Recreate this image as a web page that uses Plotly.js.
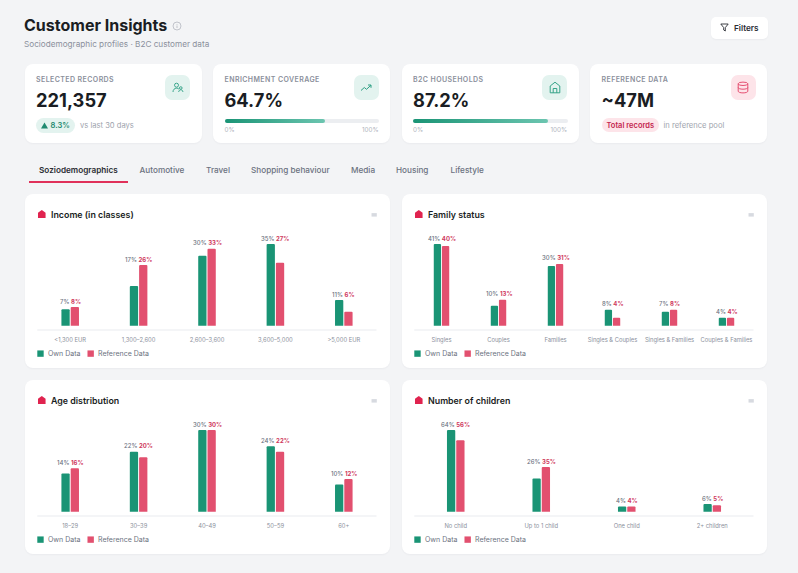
<!DOCTYPE html>
<html><head><meta charset="utf-8">
<script src="https://cdn.plot.ly/plotly-3.0.1.min.js"></script>
<style>
*{box-sizing:border-box;margin:0;padding:0}
html,body{width:798px;height:573px;overflow:hidden;background:#f3f4f6;font-family:Inter,"Noto Sans",sans-serif}
.a{position:absolute;white-space:nowrap}
.card{position:absolute;background:#fff;border-radius:8px;box-shadow:0 1px 2px rgba(20,30,50,.04)}
.kl{font-size:7px;font-weight:600;letter-spacing:.42px;color:#8b909c;top:75px;line-height:9px}
.kv{font-size:18.3px;font-weight:700;color:#1a1d23;top:88px;line-height:24px}
.ib{width:25px;height:25px;border-radius:7px;top:75px;display:flex;align-items:center;justify-content:center}
.track{height:4px;top:119px;width:154.5px;background:#eceef1;border-radius:2px}
.fill{height:4px;top:119px;border-radius:2px;background:linear-gradient(90deg,#1a9475,#6cc5b0)}
.pl{font-size:6.3px;color:#b0b4bd;top:126px;line-height:8px}
.tab{top:164px;font-size:8.2px;font-weight:500;color:#6b7280;line-height:12px}
.chart{position:absolute;width:365px;height:174px}
</style></head><body>
<div class="a" style="left:24px;top:13px;font-size:16px;font-weight:700;color:#1a1d23;line-height:24px">Customer Insights</div>
<svg class="a" style="left:172px;top:21px" width="10" height="10" viewBox="0 0 10 10" fill="none" stroke="#b4b8c0" stroke-width=".8"><circle cx="5" cy="5" r="4"/><path d="M5 4.5V7M5 3v.7"/></svg>
<div class="a" style="left:24px;top:39px;font-size:8.2px;color:#8b909c;line-height:11px">Sociodemographic profiles · B2C customer data</div>
<div class="card" style="left:711px;top:17px;width:56.5px;height:22px;border-radius:5px"></div>
<svg class="a" style="left:720px;top:23px" width="9" height="9" viewBox="0 0 9 9" fill="none" stroke="#2a2d34" stroke-width=".9"><path d="M.8 1h7.4L5.3 4.6V8L3.7 7V4.6z"/></svg>
<div class="a" style="left:734px;top:22px;font-size:8.2px;font-weight:600;color:#2a2d34;line-height:12px">Filters</div>

<div class="card" style="left:25px;top:63.5px;width:177px;height:79px"></div>
<div class="card" style="left:213px;top:63.5px;width:177px;height:79px"></div>
<div class="card" style="left:402px;top:63.5px;width:177px;height:79px"></div>
<div class="card" style="left:590px;top:63.5px;width:177px;height:79px"></div>

<div class="a kl" style="left:36px">SELECTED RECORDS</div>
<div class="a kl" style="left:224.5px">ENRICHMENT COVERAGE</div>
<div class="a kl" style="left:413px">B2C HOUSEHOLDS</div>
<div class="a kl" style="left:601.5px">REFERENCE DATA</div>
<div class="a kv" style="left:36px">221,357</div>
<div class="a kv" style="left:224.5px">64.7%</div>
<div class="a kv" style="left:413px">87.2%</div>
<div class="a kv" style="left:601.5px">~47M</div>

<div class="a ib" style="left:165px;background:#e3f3ef"><svg width="12" height="12" viewBox="0 0 12 12" fill="none" stroke="#2c9f83" stroke-width=".9"><circle cx="4.5" cy="3.2" r="2"/><path d="M1 10c0-2.4 1.6-3.8 3.5-3.8 1 0 1.8.3 2.4.9"/><circle cx="8.8" cy="6" r="1.3"/><path d="M6.7 10c0-1.3.9-2.2 2.1-2.2s2.1.9 2.1 2.2"/></svg></div>
<div class="a ib" style="left:353.5px;background:#e3f3ef"><svg width="12" height="12" viewBox="0 0 12 12" fill="none" stroke="#2c9f83" stroke-width="1"><path d="M1 8.5l3.3-3 2.2 1.8L11 3.2M8 3h3v2.8"/></svg></div>
<div class="a ib" style="left:542px;background:#e3f3ef"><svg width="12" height="13" viewBox="0 0 12 13" fill="none" stroke="#2c9f83" stroke-width=".95"><path d="M1.2 11.8V5L6 1.2 10.8 5v6.8zM4.2 11.8V7.5h3.6v4.3"/></svg></div>
<div class="a ib" style="left:730.5px;background:#fde4e9"><svg width="12" height="13" viewBox="0 0 12 13" fill="none" stroke="#e4486c" stroke-width=".95"><ellipse cx="6" cy="2.8" rx="4.8" ry="1.7"/><path d="M1.2 2.8v7.4c0 1 2.1 1.7 4.8 1.7s4.8-.7 4.8-1.7V2.8M1.2 6.5c0 1 2.1 1.7 4.8 1.7s4.8-.7 4.8-1.7"/></svg></div>

<div class="a" style="left:36px;top:118px;width:39px;height:15px;border-radius:8px;background:#e3f3ef"></div>
<svg class="a" style="left:41px;top:122px" width="7" height="7" viewBox="0 0 7 7"><path d="M3.5.5L7 6.5H0z" fill="#1f8a70"/></svg>
<div class="a" style="left:50.5px;top:120px;font-size:7.6px;font-weight:600;color:#1f8a70;line-height:11px">8.3%</div>
<div class="a" style="left:80px;top:120px;font-size:7.6px;color:#a0a4ae;line-height:11px">vs last 30 days</div>

<div class="a track" style="left:224.5px"></div><div class="a fill" style="left:224.5px;width:100px"></div>
<div class="a pl" style="left:224.5px">0%</div><div class="a pl" style="left:362px">100%</div>
<div class="a track" style="left:413px"></div><div class="a fill" style="left:413px;width:134.7px"></div>
<div class="a pl" style="left:413px">0%</div><div class="a pl" style="left:550.5px">100%</div>

<div class="a" style="left:601.5px;top:118px;width:57.5px;height:13.5px;border-radius:7px;background:#fde4e9"></div>
<div class="a" style="left:606.5px;top:119.5px;font-size:7.5px;font-weight:600;color:#c4264f;line-height:11px">Total records</div>
<div class="a" style="left:663.5px;top:119.5px;font-size:7.6px;color:#a0a4ae;line-height:11px">in reference pool</div>

<div class="a tab" style="left:39px;color:#2a2d34;font-weight:600">Soziodemographics</div>
<div class="a tab" style="left:139.5px">Automotive</div>
<div class="a tab" style="left:206px">Travel</div>
<div class="a tab" style="left:251px">Shopping behaviour</div>
<div class="a tab" style="left:351px">Media</div>
<div class="a tab" style="left:396px">Housing</div>
<div class="a tab" style="left:450.5px">Lifestyle</div>
<div class="a" style="left:29px;top:181px;width:99px;height:1.5px;background:#e0315a"></div>

<div class="card" style="left:25px;top:194px;width:365px;height:174px"></div>
<div class="card" style="left:402px;top:194px;width:365px;height:174px"></div>
<div class="card" style="left:25px;top:379.5px;width:365px;height:174.5px"></div>
<div class="card" style="left:402px;top:379.5px;width:365px;height:174.5px"></div>
<div class="chart" id="c1" style="left:25px;top:194px"></div>
<div class="chart" id="c2" style="left:402px;top:194px"></div>
<div class="chart" id="c3" style="left:25px;top:379.5px"></div>
<div class="chart" id="c4" style="left:402px;top:379.5px"></div>

<script>
const incomeCategories = ["<1,300 EUR","1,300–2,600","2,600–3,600","3,600–5,000",">5,000 EUR"];
const incomeOwn = [7,17,30,35,11];
const incomeRef = [8,26,33,27,6];
const familyCategories = ["Singles","Couples","Families","Singles & Couples","Singles & Families","Couples & Families"];
const familyOwn = [41,10,30,8,7,4];
const familyRef = [40,13,31,4,8,4];
const ageCategories = ["18–29","30–39","40–49","50–59","60+"];
const ageOwn = [14,22,30,24,10];
const ageRef = [16,20,30,22,12];
const childrenCategories = ["No child","Up to 1 child","One child","2+ children"];
const childrenOwn = [64,26,4,6];
const childrenRef = [56,35,4,5];
const seriesNames = ["Own Data","Reference Data"];
const OWN="#1a9475", REF="#e2506f", FONT="Inter, 'Noto Sans', sans-serif";
const H=174,TOP=50,AXIS=136.3,BASE=132,W=342.8,L=10.7;

function draw(id,title,cats,own,ref,barW,gap){
  const max=Math.max(...own,...ref);
  const pxPer=(BASE-TOP)/max;
  const band=W/cats.length, slot=barW+gap;
  const py=y=>(AXIS-y)/(AXIS-TOP), px=x=>(x-L)/W;
  const bar=(name,vals,color)=>({type:"bar",name,x:cats,y:vals,marker:{color,cornerradius:1},hoverinfo:"x+y"});
  const anns=cats.map((c,i)=>({x:c,y:Math.max(own[i],ref[i]),xref:"x",yref:"y",yanchor:"bottom",yshift:1.5,showarrow:false,
    borderpad:0,font:{family:FONT,size:6,weight:500,color:"#6b7280"},
    text:own[i]+'% <span style="color:#cf3a60;font-weight:700">'+ref[i]+'%</span>'}));
  [[21.7,seriesNames[0]],[72.3,seriesNames[1]]].forEach(([tx,n])=>{
    anns.push({xref:"paper",yref:"paper",x:px(tx),y:py(160),xanchor:"left",yanchor:"middle",showarrow:false,borderpad:0,
      text:n,font:{family:FONT,size:7,color:"#6b7280"}});
  });
  const swatch=(sx,c)=>({type:"rect",xref:"paper",yref:"paper",x0:px(sx),x1:px(sx+6.4),y0:py(163.2),y1:py(156.8),fillcolor:c,line:{width:0},layer:"above"});
  const icon={type:"path",xref:"paper",yref:"paper",fillcolor:"#e0234f",line:{width:0},
    path:"M"+px(12.7)+" "+py(24)+"L"+px(12.7)+" "+py(18.6)+"L"+px(16.5)+" "+py(16)+"L"+px(20.3)+" "+py(18.6)+"L"+px(20.3)+" "+py(24)+"Z"};
  const menu={type:"rect",xref:"paper",yref:"paper",x0:px(347),x1:px(352.3),y0:py(22.5),y1:py(19),fillcolor:"#d7dae0",line:{width:0}};
  const axisLine={type:"line",xref:"paper",yref:"paper",x0:px(12),x1:px(352),y0:0,y1:0,line:{color:"#e9ebef",width:1}};
  Plotly.newPlot(id,[bar(seriesNames[0],own,OWN),bar(seriesNames[1],ref,REF)],{
    width:365,height:H,autosize:false,showlegend:false,
    paper_bgcolor:"rgba(0,0,0,0)",plot_bgcolor:"rgba(0,0,0,0)",
    margin:{l:L,r:365-L-W,t:TOP,b:H-AXIS,pad:0},
    barmode:"group",bargap:1-2*slot/band,bargroupgap:gap/slot,
    title:{text:title,x:26/365,xanchor:"left",xref:"container",y:1-20.5/H,yref:"container",yanchor:"middle",
      font:{family:FONT,size:8.85,weight:600,color:"#1a1d23"}},
    xaxis:{type:"category",categoryorder:"array",categoryarray:cats,fixedrange:true,showline:false,
      ticks:"",tickangle:0,showgrid:false,zeroline:false,ticklabelstandoff:5,tickfont:{family:FONT,size:5.8,color:"#8b909c"}},
    yaxis:{range:[-(AXIS-BASE)/pxPer,max],visible:false,fixedrange:true,showgrid:false,zeroline:false},
    annotations:anns,
    shapes:[axisLine,swatch(12,OWN),swatch(62.3,REF),icon,menu]
  },{displayModeBar:false,staticPlot:true});
}
draw("c1","Income (in classes)",incomeCategories,incomeOwn,incomeRef,8.3,1);
draw("c2","Family status",familyCategories,familyOwn,familyRef,7.3,0.9);
draw("c3","Age distribution",ageCategories,ageOwn,ageRef,8.3,1);
draw("c4","Number of children",childrenCategories,childrenOwn,childrenRef,8.3,1);
</script>
</body></html>
